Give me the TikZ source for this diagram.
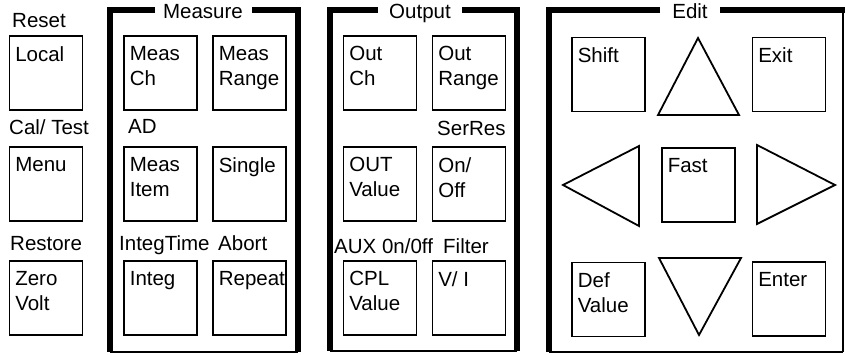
\documentclass[tikz,border=0pt]{standalone}
\usepackage{fontspec}
\setmainfont{Liberation Sans}
\newcommand{\keyfont}{\fontsize{20.5}{25}\selectfont}
\newcommand{\keybtn}[4]{%
  \node[key] (#1) at (#2,#3) {};
  \node[keytext] (#1-t) at ([shift={(6.5,11)}]#1.north west) {#4};}
\begin{document}
\begin{tikzpicture}[x=1pt, y=-1pt,
  key/.style={draw, line width=1.8pt, minimum width=73pt, minimum height=74pt, inner sep=0pt},
  keytext/.style={anchor=north west, align=left, inner sep=0pt, font=\keyfont},
  keylabel/.style={anchor=base west, inner sep=0pt, font=\keyfont},
  grouptitle/.style={anchor=base, inner sep=0pt, font=\keyfont},
  heavy/.style={line width=5.5pt, line join=miter},
  light/.style={line width=1.5pt},
  arrowkey/.style={line width=1.8pt, line join=miter}]
  \useasboundingbox (0,0) rectangle (845,355);

  % left column
  \keybtn{local}{46}{73}{Local}
  \keybtn{menu}{46}{184}{Menu}
  \keybtn{zero}{46}{298}{Zero\\Volt}
  \node[keylabel] (reset) at (12,28) {Reset};
  \node[keylabel] (caltest) at (9,135) {Cal/ Test};
  \node[keylabel] (restore) at (10,251) {Restore};

  % Measure group
  \node[grouptitle] (measure) at (203,19) {Measure};
  \draw[heavy] (155,10) -- (110,10) -- (110,352);
  \draw[heavy] (252,10) -- (298,10) -- (298,352);
  \draw[light] (110,352) -- (298,352);
  \keybtn{measch}{160.5}{73}{Meas\\Ch}
  \keybtn{measrange}{249.5}{73}{Meas\\Range}
  \keybtn{measitem}{160.5}{184}{Meas\\Item}
  \keybtn{single}{249.5}{184}{Single}
  \keybtn{integ}{160.5}{298}{Integ}
  \keybtn{repeat}{249.5}{298}{Repeat}
  \node[keylabel] (ad) at (128,134) {AD};
  \node[keylabel] (integtime) at (119,251) {IntegTime};
  \node[keylabel] (abort) at (218,251) {Abort};

  % Output group
  \node[grouptitle] (output) at (420,19) {Output};
  \draw[heavy] (378,10) -- (330,10) -- (330,351);
  \draw[heavy] (462,10) -- (517,10) -- (517,351);
  \draw[light] (330,351) -- (517,351);
  \keybtn{outch}{380}{73}{Out\\Ch}
  \keybtn{outrange}{469}{73}{Out\\Range}
  \keybtn{outvalue}{380}{184}{OUT\\Value}
  \keybtn{onoff}{469}{184}{On/\\Off}
  \keybtn{cplvalue}{380}{298}{CPL\\Value}
  \keybtn{vi}{469}{298}{V/ I}
  \node[keylabel] (serres) at (437,136) {SerRes};
  \node[keylabel] (aux) at (334,253) {AUX 0n/0ff};
  \node[keylabel] (filter) at (443,253) {Filter};

  % Edit group
  \node[grouptitle] (edit) at (690,19) {Edit};
  \draw[heavy] (660,10) -- (549,10) -- (549,352);
  \draw[heavy] (720,10) -- (845,10);
  \draw[light] (843,10) -- (843,352);
  \draw[light] (549,352) -- (843,352);
  \keybtn{shift}{608.5}{74.5}{Shift}
  \keybtn{exit}{789}{74.5}{Exit}
  \keybtn{fast}{698.5}{185}{Fast}
  \keybtn{defvalue}{608.5}{299.5}{Def\\Value}
  \keybtn{enter}{789}{299}{Enter}
  \draw[arrowkey] (698,38) -- (739,115) -- (658,115) -- cycle;
  \draw[arrowkey] (699,335) -- (741,258) -- (659,258) -- cycle;
  \draw[arrowkey] (563,185) -- (639,146) -- (639,226) -- cycle;
  \draw[arrowkey] (835,185) -- (757,145) -- (757,224) -- cycle;
\end{tikzpicture}
\end{document}
